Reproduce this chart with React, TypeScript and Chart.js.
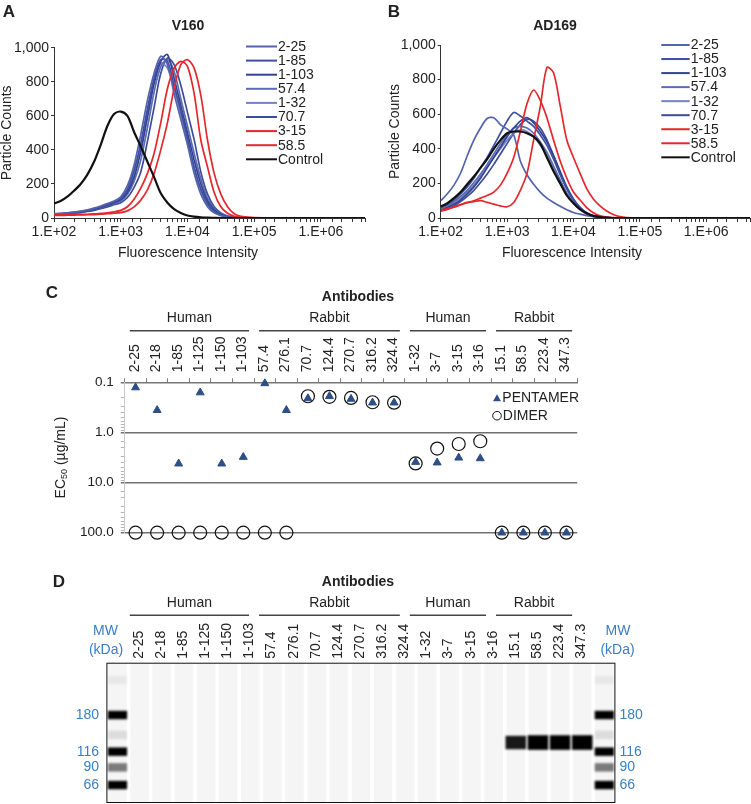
import React, { useEffect, useRef } from 'react';
import { Chart, registerables } from 'chart.js';

Chart.register(...registerables);

const FONT = "'Liberation Sans', Arial, Helvetica, sans-serif";
const INK = '#222222';
Chart.defaults.font.family = FONT;
Chart.defaults.color = INK;

// ================= Panels A & B : flow cytometry histograms =================
const logIntensity = [2.0, 2.1, 2.2, 2.3, 2.4, 2.5, 2.6, 2.7, 2.8, 2.9, 3.0, 3.1, 3.2, 3.3, 3.4, 3.5, 3.6, 3.7, 3.8, 3.9, 4.0, 4.1, 4.2, 4.3, 4.4, 4.5, 4.6, 4.7, 4.8, 5.0, 5.5, 6.0, 6.66];
const seriesNames = ['2-25', '1-85', '1-103', '57.4', '1-32', '70.7', '3-15', '58.5', 'Control'];
const seriesColors = ['#5363ae', '#3f4fa0', '#34438f', '#5b6bb4', '#7282c2', '#3e4d9a', '#e8252b', '#e3282e', '#111111'];

// V160
const v160_2_25 = [25, 27, 30, 34, 40, 48, 58, 70, 85, 100, 125, 190, 310, 490, 690, 850, 950, 900, 730, 580, 430, 262, 140, 66, 30, 14, 6, 3, 1, 0, 0, 0, 0];
const v160_1_85 = [24, 26, 29, 33, 38, 45, 55, 66, 80, 95, 115, 170, 280, 440, 640, 820, 930, 920, 780, 630, 470, 300, 170, 85, 40, 18, 7, 3, 1, 0, 0, 0, 0];
const v160_1_103 = [22, 24, 27, 31, 36, 42, 52, 62, 75, 90, 108, 150, 240, 390, 590, 790, 920, 960, 820, 660, 500, 340, 200, 100, 48, 20, 8, 3, 1, 0, 0, 0, 0];
const v160_57_4 = [21, 23, 26, 30, 35, 41, 50, 60, 72, 85, 100, 140, 215, 340, 530, 740, 890, 930, 860, 700, 540, 380, 230, 115, 55, 24, 10, 4, 1, 0, 0, 0, 0];
const v160_1_32 = [23, 25, 28, 32, 37, 44, 53, 64, 78, 92, 112, 160, 260, 420, 620, 810, 910, 880, 760, 610, 450, 290, 160, 78, 36, 16, 6, 2, 1, 0, 0, 0, 0];
const v160_70_7 = [20, 22, 25, 28, 32, 38, 45, 55, 65, 78, 90, 120, 180, 270, 450, 650, 850, 940, 900, 780, 620, 460, 270, 140, 66, 30, 12, 5, 2, 0, 0, 0, 0];
const v160_3_15 = [18, 18, 19, 20, 21, 22, 24, 27, 30, 36, 45, 66, 110, 175, 262, 380, 560, 760, 880, 920, 890, 730, 458, 300, 150, 66, 28, 10, 4, 1, 0, 0, 0];
const v160_58_5 = [15, 15, 16, 17, 18, 19, 20, 22, 25, 28, 32, 42, 65, 105, 165, 262, 400, 560, 760, 900, 930, 880, 720, 458, 262, 140, 66, 25, 10, 2, 0, 0, 0];
const v160_control = [85, 100, 125, 160, 200, 255, 330, 430, 540, 610, 625, 600, 505, 420, 330, 240, 145, 90, 52, 30, 15, 8, 4, 2, 1, 0, 0, 0, 0, 0, 0, 0, 0];

// AD169
const ad169_2_25 = [100, 140, 190, 260, 360, 450, 520, 575, 580, 540, 515, 480, 330, 250, 195, 150, 115, 90, 68, 48, 32, 22, 14, 8, 4, 2, 1, 0, 0, 0, 0, 0, 0];
const ad169_1_85 = [60, 80, 105, 140, 180, 230, 290, 350, 420, 490, 560, 610, 590, 560, 530, 480, 420, 340, 250, 170, 104, 60, 27, 12, 5, 2, 0, 0, 0, 0, 0, 0, 0];
const ad169_1_103 = [45, 60, 80, 105, 140, 180, 230, 290, 350, 410, 470, 520, 560, 580, 550, 500, 440, 360, 270, 180, 110, 62, 30, 13, 5, 2, 0, 0, 0, 0, 0, 0, 0];
const ad169_57_4 = [55, 72, 95, 125, 160, 205, 255, 310, 370, 430, 480, 520, 530, 520, 490, 440, 380, 300, 220, 145, 90, 50, 24, 10, 4, 1, 0, 0, 0, 0, 0, 0, 0];
const ad169_1_32 = [50, 65, 88, 115, 150, 190, 240, 295, 350, 400, 450, 490, 510, 500, 470, 420, 360, 290, 210, 140, 85, 48, 22, 9, 3, 1, 0, 0, 0, 0, 0, 0, 0];
const ad169_70_7 = [40, 52, 70, 95, 125, 160, 205, 255, 310, 370, 430, 490, 540, 570, 560, 520, 451, 360, 258, 170, 104, 55, 27, 12, 5, 2, 0, 0, 0, 0, 0, 0, 0];
const ad169_3_15 = [40, 50, 62, 75, 88, 100, 115, 130, 150, 190, 258, 350, 500, 660, 740, 680, 580, 451, 330, 230, 150, 104, 60, 30, 12, 5, 2, 0, 0, 0, 0, 0, 0];
const ad169_58_5 = [46, 55, 65, 78, 90, 95, 100, 90, 80, 70, 65, 90, 160, 258, 451, 643, 870, 840, 650, 451, 350, 258, 170, 110, 70, 40, 20, 8, 3, 0, 0, 0, 0];
const ad169_control = [67, 85, 115, 150, 195, 240, 290, 340, 400, 450, 490, 500, 500, 490, 470, 430, 350, 270, 200, 130, 85, 50, 28, 12, 5, 2, 0, 0, 0, 0, 0, 0, 0];

const v160Series = [v160_2_25, v160_1_85, v160_1_103, v160_57_4, v160_1_32, v160_70_7, v160_3_15, v160_58_5, v160_control];
const ad169Series = [ad169_2_25, ad169_1_85, ad169_1_103, ad169_57_4, ad169_1_32, ad169_70_7, ad169_3_15, ad169_58_5, ad169_control];

// ================= Panel C : EC50 =================
const antibodies = ['2-25', '2-18', '1-85', '1-125', '1-150', '1-103', '57.4', '276.1', '70.7', '124.4', '270.7', '316.2', '324.4', '1-32', '3-7', '3-15', '3-16', '15.1', '58.5', '223.4', '347.3'];
const groupNames = ['Human', 'Rabbit', 'Human', 'Rabbit'];
const groupSizes = [6, 7, 4, 4];
const pentamerEC50 = [0.127, 0.36, 4.2, 0.16, 4.2, 3.1, 0.105, 0.36, 0.21, 0.19, 0.215, 0.255, 0.255, 3.9, 4.0, 3.2, 3.3, 100, 100, 100, 100];
const dimerEC50 = [100, 100, 100, 100, 100, 100, 100, 100, 0.19, 0.195, 0.205, 0.25, 0.255, 4.15, 2.1, 1.7, 1.5, 100, 100, 100, 100];
const ec50LabelTicks = [0.1, 1, 10, 100];

// ================= Panel D : gel =================
const ladderKDa = [180, 116, 90, 66];
const ladderKDaMigration = [37.3, 63.4, 74.6, 87.2];
const ladderBandMigration = [12.3, 37.3, 51.5, 63.4, 74.6, 87.2];
const ladderBandIntensity = [0.05, 1, 0.1, 1, 0.5, 1];
const sampleBandMigration = [null, null, null, null, null, null, null, null, null, null, null, null, null, null, null, null, null, 56.9, 56.9, 56.9, 56.9];
const sampleBandIntensity = [0, 0, 0, 0, 0, 0, 0, 0, 0, 0, 0, 0, 0, 0, 0, 0, 0, 0.9, 1, 1, 1];

// ---------------- helpers ----------------
const isDecade = (v: number) => {
  const e = Math.log10(v);
  return Math.abs(e - Math.round(e)) < 1e-6;
};
const sciLabel = (v: number) => `1.E+${String(Math.round(Math.log10(v))).padStart(2, '0')}`;
const noEdgePadding = (s: any) => {
  s.paddingTop = 0;
  s.paddingBottom = 0;
  s.paddingLeft = 0;
  s.paddingRight = 0;
};

const histLegendPlugin = {
  id: 'histLegend',
  afterDatasetsDraw(chart: any, _a: any, opts: any) {
    const { ctx, chartArea } = chart;
    ctx.save();
    ctx.font = `14px ${FONT}`;
    ctx.textBaseline = 'middle';
    chart.data.datasets.forEach((ds: any, i: number) => {
      const y = chartArea.top + opts.y + i * opts.step;
      const x = chartArea.left + opts.x;
      ctx.strokeStyle = ds.borderColor;
      ctx.lineWidth = 2;
      ctx.beginPath();
      ctx.moveTo(x, y);
      ctx.lineTo(x + opts.len, y);
      ctx.stroke();
      ctx.fillStyle = INK;
      ctx.fillText(ds.label, x + opts.len + 1, y + 0.5);
    });
    ctx.restore();
  },
};

const groupHeaderPlugin = {
  id: 'groupHeader',
  afterDraw(chart: any, _a: any, opts: any) {
    const { ctx, chartArea } = chart;
    const xs = chart.scales.x;
    let left: number, step: number;
    if (opts.left != null) {
      left = opts.left;
      step = opts.step;
    } else {
      step = xs.getPixelForValue(1) - xs.getPixelForValue(0);
      left = xs.getPixelForValue(opts.first) - step / 2;
    }
    ctx.save();
    ctx.font = `14px ${FONT}`;
    ctx.fillStyle = INK;
    ctx.textAlign = 'center';
    ctx.textBaseline = 'middle';
    ctx.strokeStyle = '#444';
    ctx.lineWidth = 1.5;
    let idx = 0;
    groupSizes.forEach((n, g) => {
      const x0 = left + idx * step + opts.inset;
      const x1 = left + (idx + n) * step - opts.inset;
      const ly = chartArea.top + opts.lineY;
      ctx.beginPath();
      ctx.moveTo(x0, ly);
      ctx.lineTo(x1, ly);
      ctx.stroke();
      ctx.fillText(groupNames[g], (x0 + x1) / 2, chartArea.top + opts.labelY);
      idx += n;
    });
    ctx.restore();
  },
};

const ec50DecorPlugin = {
  id: 'ec50Decor',
  afterDraw(chart: any) {
    const { ctx, chartArea } = chart;
    ctx.save();
    ctx.translate(chartArea.left - 63.8, (chartArea.top + chartArea.bottom) / 2);
    ctx.rotate(-Math.PI / 2);
    ctx.fillStyle = INK;
    ctx.textBaseline = 'middle';
    const big = `14px ${FONT}`;
    const small = `9px ${FONT}`;
    ctx.font = big;
    const wEC = ctx.measureText('EC').width;
    const wRest = ctx.measureText(' (µg/mL)').width;
    ctx.font = small;
    const wSub = ctx.measureText('50').width;
    let x = -(wEC + wSub + wRest) / 2;
    ctx.font = big;
    ctx.fillText('EC', x, 0);
    x += wEC;
    ctx.font = small;
    ctx.fillText('50', x, 4);
    x += wSub;
    ctx.font = big;
    ctx.fillText(' (µg/mL)', x, 0);
    ctx.restore();

    const ds = chart.data.datasets;
    const lx = chartArea.left + 372.2;
    const y1 = chartArea.top + 15.4;
    const y2 = chartArea.top + 33.4;
    ctx.save();
    const r = 4.6;
    ctx.fillStyle = ds[0].pointBackgroundColor;
    ctx.beginPath();
    const ty = y1 + r / 4;
    ctx.moveTo(lx, ty - r);
    ctx.lineTo(lx + r * 0.866, ty + r / 2);
    ctx.lineTo(lx - r * 0.866, ty + r / 2);
    ctx.closePath();
    ctx.fill();
    ctx.strokeStyle = ds[1].pointBorderColor;
    ctx.lineWidth = 1;
    ctx.beginPath();
    ctx.arc(lx, y2, 4.3, 0, Math.PI * 2);
    ctx.stroke();
    ctx.fillStyle = INK;
    ctx.font = `14px ${FONT}`;
    ctx.textBaseline = 'middle';
    ctx.fillText(ds[0].label, lx + 5.3, y1 + 0.5);
    ctx.fillText(ds[1].label, lx + 5.8, y2 + 0.5);
    ctx.restore();
  },
};

const bandBlurPlugin = {
  id: 'bandBlur',
  beforeDatasetDraw(chart: any, args: any) {
    const ds = chart.data.datasets[args.index];
    if (ds.blur) {
      chart.ctx.save();
      chart.ctx.filter = `blur(${ds.blur}px)`;
    }
  },
  afterDatasetDraw(chart: any, args: any) {
    const ds = chart.data.datasets[args.index];
    if (ds.blur) chart.ctx.restore();
  },
};

const gelFramePlugin = {
  id: 'gelFrame',
  afterDraw(chart: any) {
    const { ctx, chartArea } = chart;
    ctx.save();
    ctx.strokeStyle = '#111';
    ctx.lineWidth = 1;
    ctx.strokeRect(chartArea.left + 0.5, chartArea.top + 0.5, chartArea.right - chartArea.left - 1, chartArea.bottom - chartArea.top - 1);
    ctx.restore();
  },
};

// ---------------- configs ----------------
function histConfig(series: number[][], geom: any) {
  const maxX = Math.pow(10, logIntensity[logIntensity.length - 1]);
  return {
    type: 'line',
    data: {
      datasets: seriesNames.map((name, i) => ({
        label: name,
        data: logIntensity.map((e, j) => ({ x: Math.pow(10, e), y: series[i][j] })),
        borderColor: seriesColors[i],
        backgroundColor: seriesColors[i],
        borderWidth: i === 8 ? 2.2 : 1.7,
        pointRadius: 0,
        tension: 0.3,
        fill: false,
        order: i === 8 ? 0 : i >= 6 ? 1 : 2,
      })),
    },
    options: {
      responsive: false,
      animation: false,
      events: [],
      layout: { padding: geom.padding },
      scales: {
        x: {
          type: 'logarithmic',
          min: 100,
          max: maxX,
          grid: { display: true, drawOnChartArea: false, drawTicks: true, tickLength: 4, color: '#333', lineWidth: 1 },
          border: { display: true, color: '#333', width: 1 },
          ticks: {
            autoSkip: false,
            maxRotation: 0,
            minRotation: 0,
            padding: 2,
            font: { size: 14 },
            color: INK,
            callback: (v: any) => (isDecade(Number(v)) ? sciLabel(Number(v)) : ''),
          },
          afterFit: (s: any) => {
            s.height = 42;
            noEdgePadding(s);
          },
        },
        y: {
          type: 'linear',
          min: 0,
          max: 1000,
          ticks: {
            stepSize: 200,
            padding: 2,
            font: { size: 14 },
            color: INK,
            callback: (v: any) => Number(v).toLocaleString('en-US'),
          },
          grid: { display: true, drawOnChartArea: false, drawTicks: true, tickLength: 3, color: '#333' },
          border: { display: true, color: '#333', width: 1 },
          title: { display: true, text: 'Particle Counts', font: { size: 14, lineHeight: 1 }, padding: 0, color: INK },
          afterFit: (s: any) => {
            s.width = geom.yWidth;
            noEdgePadding(s);
          },
        },
      },
      plugins: { legend: { display: false }, tooltip: { enabled: false }, histLegend: geom.legend },
    },
    plugins: [histLegendPlugin],
  };
}

function ec50Config() {
  return {
    type: 'line',
    data: {
      labels: antibodies,
      datasets: [
        {
          label: 'PENTAMER',
          data: pentamerEC50,
          showLine: false,
          pointStyle: 'triangle',
          pointRadius: 4.6,
          pointBackgroundColor: '#2d4f86',
          pointBorderColor: '#2d4f86',
          pointBorderWidth: 1,
          clip: false,
          order: 1,
        },
        {
          label: 'DIMER',
          data: dimerEC50,
          showLine: false,
          pointStyle: 'circle',
          pointRadius: 6.5,
          pointBackgroundColor: 'rgba(0,0,0,0)',
          pointBorderColor: '#111',
          pointBorderWidth: 1.2,
          clip: false,
          order: 0,
        },
      ],
    },
    options: {
      responsive: false,
      animation: false,
      events: [],
      layout: { padding: { left: 0, top: 56.7, right: 173.8, bottom: 17.3 } },
      scales: {
        x: {
          type: 'category',
          position: 'top',
          offset: true,
          grid: { display: true, offset: true, drawOnChartArea: false, drawTicks: true, tickLength: 4, color: '#777', lineWidth: 1 },
          border: { display: true, color: '#777', width: 1.5 },
          ticks: { autoSkip: false, minRotation: 90, maxRotation: 90, padding: 6, labelOffset: 16, font: { size: 14 }, color: INK },
          afterFit: (s: any) => {
            s.height = 45.6;
            noEdgePadding(s);
          },
        },
        y: {
          type: 'logarithmic',
          reverse: true,
          min: 0.1,
          max: 100,
          grid: {
            display: true,
            drawOnChartArea: true,
            drawTicks: true,
            tickLength: 4,
            color: (c: any) => (c.tick && isDecade(c.tick.value) && c.tick.value > 0.1 ? '#707070' : 'rgba(0,0,0,0)'),
            tickColor: (c: any) => (c.tick && isDecade(c.tick.value) ? '#707070' : '#b5b5b5'),
            lineWidth: (c: any) => (c.tick && isDecade(c.tick.value) ? 1.5 : 1),
          },
          border: { display: true, color: '#c8c8c8', width: 1 },
          ticks: {
            autoSkip: false,
            padding: 7,
            font: { size: 13.5 },
            color: INK,
            callback: (v: any) => (ec50LabelTicks.some((t) => Math.abs(t - Number(v)) < 1e-9) ? Number(v).toFixed(1) : ''),
          },
          afterFit: (s: any) => {
            s.width = 124.8;
            noEdgePadding(s);
          },
        },
      },
      plugins: {
        legend: { display: false },
        tooltip: { enabled: false },
        groupHeader: { first: 0, inset: 5, labelY: -64.6, lineY: -51.6 },
      },
    },
    plugins: [groupHeaderPlugin, ec50DecorPlugin],
  };
}

function gelConfig() {
  const lanes = ['MW', ...antibodies, 'MW '];
  const last = lanes.length - 1;
  const LADDER_HALF = 3.0;
  const SAMPLE_HALF = 5.2;
  const isLadder = (i: number) => i === 0 || i === last;
  const datasets: any[] = [];
  datasets.push({
    label: 'lanes',
    data: lanes.map(() => [0, 100]),
    backgroundColor: '#f5f5f5',
    barPercentage: 0.84,
    categoryPercentage: 1,
    grouped: false,
    order: 5,
  });
  ladderBandMigration.forEach((m, k) => {
    datasets.push({
      label: `ladder ${k}`,
      data: lanes.map((_, i) => (isLadder(i) ? [m - LADDER_HALF, m + LADDER_HALF] : null)),
      backgroundColor: `rgba(0,0,0,${ladderBandIntensity[k]})`,
      barPercentage: 0.87,
      categoryPercentage: 1,
      grouped: false,
      order: 1,
      blur: 1.1,
    });
  });
  datasets.push({
    label: 'samples',
    data: lanes.map((_, i) => {
      if (isLadder(i)) return null;
      const m = sampleBandMigration[i - 1];
      if (m == null) return null;
      const h = SAMPLE_HALF * (0.2 + 0.8 * sampleBandIntensity[i - 1]);
      return [m - h, m + h];
    }),
    backgroundColor: lanes.map((_, i) => `rgba(0,0,0,${isLadder(i) ? 0 : sampleBandIntensity[i - 1]})`),
    barPercentage: 0.93,
    categoryPercentage: 1,
    grouped: false,
    order: 1,
    blur: 1.2,
  });
  const yAxis = (position: string, width: number, padding: number) => ({
    type: 'linear',
    position,
    reverse: true,
    min: 0,
    max: 100,
    afterBuildTicks: (s: any) => {
      s.ticks = ladderKDaMigration.map((v) => ({ value: v }));
    },
    ticks: {
      autoSkip: false,
      padding,
      font: { size: 14 },
      color: '#3a7fc1',
      callback: (_v: any, i: number) => String(ladderKDa[i]),
    },
    grid: { display: false, drawTicks: false },
    border: { display: false },
    afterFit: (s: any) => {
      s.width = width;
      noEdgePadding(s);
    },
  });
  return {
    type: 'bar',
    data: { labels: lanes, datasets },
    options: {
      responsive: false,
      animation: false,
      events: [],
      layout: { padding: { left: 0, top: 63, right: 0, bottom: 1 } },
      scales: {
        x: {
          type: 'category',
          position: 'top',
          offset: true,
          grid: { display: false, drawTicks: false },
          border: { display: false },
          ticks: {
            autoSkip: false,
            minRotation: 90,
            maxRotation: 90,
            padding: 4,
            labelOffset: 16,
            font: { size: 14 },
            color: INK,
            callback: (_v: any, i: number) => (isLadder(i) ? '' : lanes[i]),
          },
          afterFit: (s: any) => {
            s.height = 39.7;
            noEdgePadding(s);
          },
        },
        y: yAxis('left', 106.4, 7.4),
        y2: yAxis('right', 135.6, 4),
      },
      plugins: {
        legend: { display: false },
        tooltip: { enabled: false },
        groupHeader: { left: 124.8, step: 21.54, inset: 5, labelY: -59.4, lineY: -47.4 },
      },
    },
    plugins: [bandBlurPlugin, gelFramePlugin, groupHeaderPlugin],
  };
}

// ---------------- components ----------------
function ChartCanvas({ make, left, top, width, height }: any) {
  const ref = useRef<HTMLCanvasElement>(null);
  useEffect(() => {
    const chart = new Chart(ref.current as HTMLCanvasElement, make());
    return () => chart.destroy();
  }, []);
  return <canvas ref={ref} width={width} height={height} style={{ position: 'absolute', left, top, width, height }} />;
}

function Label({ x, y, text, size = 14, bold = false, color = INK }: any) {
  return (
    <div
      style={{
        position: 'absolute',
        left: x,
        top: y,
        transform: 'translate(-50%, -50%)',
        fontFamily: FONT,
        fontSize: size,
        fontWeight: bold ? 'bold' : 'normal',
        lineHeight: 1,
        color,
        whiteSpace: 'nowrap',
      }}
    >
      {text}
    </div>
  );
}

export default function App() {
  const blue = '#3a7fc1';
  return (
    <div style={{ position: 'absolute', left: 0, top: 0, width: 751, height: 804, overflow: 'hidden', background: '#fff' }}>
      <ChartCanvas
        make={() =>
          histConfig(v160Series, {
            padding: { left: 0, top: 47.7, right: 10, bottom: 10 },
            yWidth: 54,
            legend: { x: 192, y: -1.2, step: 14.1, len: 31 },
          })
        }
        left={0}
        top={0}
        width={375}
        height={270}
      />
      <ChartCanvas
        make={() =>
          histConfig(ad169Series, {
            padding: { left: 13, top: 45, right: 1, bottom: 10 },
            yWidth: 52.7,
            legend: { x: 220.6, y: 0, step: 14.04, len: 28.4 },
          })
        }
        left={375}
        top={0}
        width={376}
        height={270}
      />
      <ChartCanvas make={ec50Config} left={0} top={280} width={751} height={270} />
      <ChartCanvas make={gelConfig} left={0} top={560} width={751} height={244} />

      <Label x={9} y={11} text="A" size={17} bold />
      <Label x={394} y={11} text="B" size={17} bold />
      <Label x={188} y={25} text="V160" bold />
      <Label x={555} y={25} text="AD169" bold />
      <Label x={188} y={252} text="Fluorescence Intensity" />
      <Label x={572} y={252} text="Fluorescence Intensity" />

      <Label x={52} y={292} text="C" size={17} bold />
      <Label x={358} y={296} text="Antibodies" bold />

      <Label x={59} y={581} text="D" size={17} bold />
      <Label x={358} y={581} text="Antibodies" bold />
      <Label x={105.5} y={630} text="MW" color={blue} />
      <Label x={106} y={649} text="(kDa)" color={blue} />
      <Label x={618} y={630} text="MW" color={blue} />
      <Label x={617.5} y={649} text="(kDa)" color={blue} />
    </div>
  );
}
